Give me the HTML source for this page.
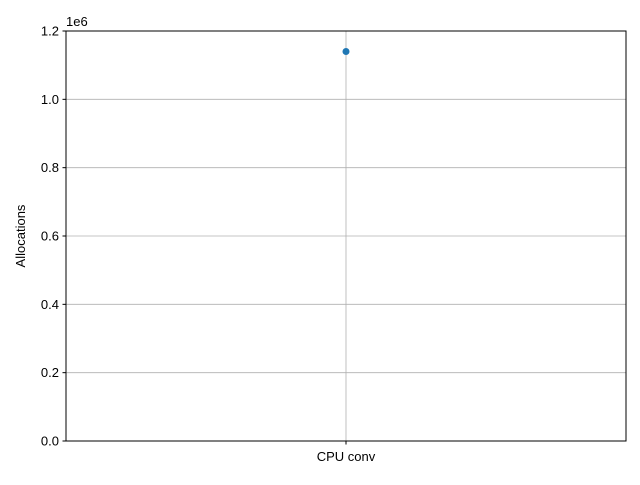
<!DOCTYPE html>
<html><head><meta charset="utf-8"><style>
body{margin:0;background:#fff;}
svg text{font-family:"Liberation Sans","DejaVu Sans",sans-serif;font-size:13px;fill:#000;}
</style></head><body>
<svg id="chart" width="640" height="480">
<g id="grid"></g>
<rect x="66" y="31" width="560" height="410" fill="none" stroke="#000" stroke-width="1"/>
<g id="yticks"></g>
<g id="xticks"></g>
<g id="marks"></g>
<text x="66" y="26">1e6</text>
<text transform="translate(25,236) rotate(-90)" text-anchor="middle">Allocations</text>
</svg>
<script>
const categories=["CPU conv"];
const values=[1140000];
const yTicks=[0,0.2,0.4,0.6,0.8,1.0,1.2];
const yTickLabels=["0.0","0.2","0.4","0.6","0.8","1.0","1.2"];
const NS="http://www.w3.org/2000/svg";
const L=66,R=626,T=31,B=441,yMax=1.2e6;
function ys(v){return B-(v/yMax)*(B-T);}
function xs(i){return L+(i+0.5)*(R-L)/categories.length;}
function mk(tag,attrs,parent){const e=document.createElementNS(NS,tag);for(const k in attrs)e.setAttribute(k,attrs[k]);document.getElementById(parent).appendChild(e);return e;}
yTicks.forEach((t,i)=>{
  const y=ys(t*1e6);
  const g=mk("line",{x1:L,x2:R,y1:y,y2:y,stroke:"#b0b0b0","stroke-width":0.8},"grid");
  
  
  const tk=mk("line",{x1:L-3.5,x2:L,y1:y,y2:y,stroke:"#000"},"yticks");
  
  
  const tx=mk("text",{x:L-7,y:y+4.5,"text-anchor":"end"},"yticks");
  tx.textContent=yTickLabels[i];
  
  
});
categories.forEach((c,i)=>{
  const x=xs(i);
  const g=mk("line",{x1:x,x2:x,y1:T,y2:B,stroke:"#b0b0b0","stroke-width":0.8},"grid");
  
  
  const tk=mk("line",{x1:x,x2:x,y1:B,y2:B+3.5,stroke:"#000"},"xticks");
  
  
  const tx=mk("text",{x:x,y:B+20,"text-anchor":"middle"},"xticks");
  tx.textContent=c;
  
  
  const p=mk("circle",{cx:x,cy:ys(values[i]),r:3.5,fill:"#1f77b4"},"marks");
  
  
});
</script>
</body></html>
